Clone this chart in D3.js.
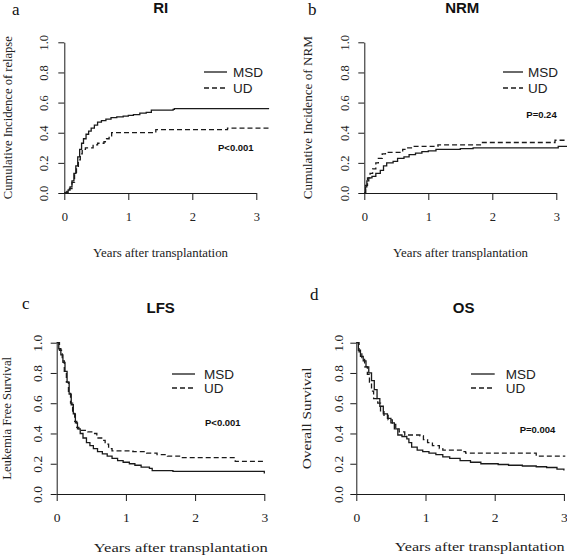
<!DOCTYPE html>
<html><head><meta charset="utf-8">
<script src="https://cdn.jsdelivr.net/npm/d3@7"></script>
<style>body{margin:0;background:#fff}svg{display:block}</style>
</head><body>
<svg id="c" width="567" height="560"></svg>
<script>
// ---- data (years, value) ----
const xTicks = [0, 1, 2, 3];
const yTicks = [0, 0.2, 0.4, 0.6, 0.8, 1.0];
const panelLetters = ["a", "b", "c", "d"];
const panelTitles = ["RI", "NRM", "LFS", "OS"];
const yTitles = ["Cumulative Incidence of relapse", "Cumulative Incidence of NRM", "Leukemia Free Survival", "Overall Survival"];
const xTitle = "Years after transplantation";
const seriesNames = ["MSD", "UD"];
const pValues = ["P<0.001", "P=0.24", "P<0.001", "P=0.004"];

const riMSD = [[0,0],[0.03,0.005],[0.06,0.02],[0.09,0.04],[0.12,0.08],[0.15,0.13],[0.18,0.18],[0.21,0.24],[0.24,0.29],[0.27,0.33],[0.30,0.36],[0.34,0.39],[0.38,0.41],[0.42,0.43],[0.47,0.45],[0.52,0.47],[0.58,0.48],[0.65,0.49],[0.73,0.50],[0.82,0.505],[0.92,0.51],[1.0,0.515],[1.08,0.52],[1.18,0.53],[1.28,0.535],[1.36,0.55],[1.7,0.555],[1.72,0.56],[3.2,0.56]];
const riUD = [[0,0],[0.04,0.01],[0.08,0.03],[0.12,0.07],[0.16,0.12],[0.19,0.17],[0.22,0.22],[0.25,0.26],[0.28,0.29],[0.33,0.30],[0.45,0.32],[0.52,0.33],[0.62,0.34],[0.66,0.36],[0.70,0.38],[0.74,0.40],[1.36,0.40],[1.43,0.42],[2.5,0.42],[2.55,0.43],[3.2,0.43]];
const nrmMSD = [[0,0],[0.02,0.04],[0.04,0.08],[0.07,0.10],[0.12,0.11],[0.18,0.13],[0.25,0.15],[0.30,0.18],[0.35,0.20],[0.45,0.21],[0.52,0.23],[0.62,0.24],[0.70,0.255],[0.80,0.265],[0.90,0.275],[1.0,0.28],[1.12,0.29],[1.5,0.295],[1.7,0.30],[3.0,0.30],[3.03,0.31],[3.2,0.31]];
const nrmUD = [[0,0],[0.02,0.05],[0.05,0.10],[0.09,0.13],[0.13,0.16],[0.18,0.20],[0.22,0.23],[0.28,0.26],[0.33,0.27],[0.56,0.27],[0.60,0.29],[0.66,0.30],[0.75,0.31],[1.1,0.31],[1.15,0.32],[1.8,0.32],[1.83,0.335],[2.95,0.335],[2.98,0.35],[3.2,0.35]];
const lfsMSD = [[0,1],[0.03,0.96],[0.06,0.92],[0.09,0.87],[0.12,0.81],[0.15,0.74],[0.18,0.66],[0.21,0.59],[0.24,0.53],[0.27,0.47],[0.30,0.43],[0.34,0.40],[0.38,0.37],[0.43,0.34],[0.48,0.32],[0.53,0.30],[0.59,0.28],[0.66,0.265],[0.73,0.25],[0.80,0.235],[0.88,0.22],[0.96,0.21],[1.05,0.20],[1.13,0.19],[1.22,0.178],[1.34,0.17],[1.38,0.155],[1.68,0.15],[2.98,0.15],[3.0,0.135]];
const lfsUD = [[0,1],[0.04,0.95],[0.08,0.88],[0.11,0.80],[0.14,0.74],[0.17,0.67],[0.20,0.60],[0.23,0.54],[0.26,0.48],[0.29,0.44],[0.32,0.42],[0.38,0.42],[0.45,0.41],[0.52,0.40],[0.58,0.37],[0.65,0.355],[0.70,0.33],[0.75,0.30],[0.80,0.285],[1.1,0.28],[1.3,0.27],[1.45,0.26],[1.6,0.25],[1.8,0.24],[2.55,0.24],[2.58,0.215],[3.0,0.215]];
const osMSD = [[0,1],[0.03,0.95],[0.06,0.91],[0.1,0.88],[0.14,0.84],[0.18,0.80],[0.22,0.75],[0.26,0.69],[0.30,0.63],[0.34,0.58],[0.39,0.53],[0.45,0.50],[0.50,0.47],[0.55,0.43],[0.60,0.39],[0.66,0.38],[0.73,0.365],[0.76,0.34],[0.80,0.31],[0.88,0.29],[0.96,0.28],[1.05,0.27],[1.15,0.26],[1.25,0.245],[1.35,0.235],[1.5,0.22],[1.65,0.21],[1.8,0.20],[2.05,0.195],[2.2,0.19],[2.4,0.185],[2.6,0.18],[2.75,0.175],[2.9,0.165],[3.0,0.155]];
const osUD = [[0,1],[0.04,0.94],[0.08,0.89],[0.12,0.84],[0.16,0.79],[0.19,0.74],[0.22,0.68],[0.25,0.63],[0.31,0.60],[0.35,0.55],[0.40,0.52],[0.46,0.49],[0.52,0.46],[0.57,0.43],[0.62,0.41],[0.70,0.39],[0.92,0.385],[0.97,0.36],[1.03,0.34],[1.1,0.32],[1.2,0.30],[1.25,0.29],[1.54,0.28],[1.58,0.27],[2.58,0.27],[2.6,0.25],[3.02,0.25]];
const panelData = [[riMSD, riUD], [nrmMSD, nrmUD], [lfsMSD, lfsUD], [osMSD, osUD]];

// ---- layout ----
const layout = [
  {x0:64.3, px:64, yT:42.3, yB:193, fs:12.5, lbl:[12,15], ttl:[160.7,12.5], xt:[160.5,256.5,135], yt:[7,163], leg:[204,227,233,72,88], p:[218,150.7], ytl:21, xtl:220.5},
  {x0:364.3, px:64, yT:42.3, yB:193, fs:12.5, lbl:[308,15], ttl:[462.3,12.5], xt:[460.5,256.5,135], yt:[307,163], leg:[503,523,528,72,88], p:[526.3,118.3], ytl:20, xtl:220.5},
  {x0:56.7, px:69.2, yT:342.7, yB:494, fs:13.5, lbl:[22,309], ttl:[160.7,312.7], xt:[180.8,551.5,174], yt:[6,123], leg:[172,195,204,374,388], p:[205,426], ytl:19, xtl:522},
  {x0:356.3, px:69.2, yT:342.7, yB:494, fs:13.5, lbl:[310,300], ttl:[463.7,312.7], xt:[479.7,550.7,170], yt:[306,102], leg:[471,494.7,505.7,374,388], p:[519.7,432.7], ytl:18, xtl:522}
];

const svg = d3.select("#c");
const serif = "'Liberation Serif','Times New Roman',serif";
const sans = "'Liberation Sans',Arial,sans-serif";
const ink = "#1a1a1a";

layout.forEach((L, i) => {
  const g = svg.append("g");
  const x = d3.scaleLinear().domain([0, 3]).range([L.x0, L.x0 + 3 * L.px]);
  const y = d3.scaleLinear().domain([0, 1]).range([L.yB, L.yT]);

  // axes
  const xa = g.append("g").attr("transform", `translate(0,${L.yB})`)
    .call(d3.axisBottom(x).tickValues(xTicks).tickFormat(d3.format("d")).tickSize(7).tickSizeOuter(0));
  xa.select(".domain").attr("stroke", ink);
  xa.selectAll(".tick line").attr("stroke", ink);
  xa.selectAll(".tick text").attr("font-family", serif).attr("font-size", L.fs).attr("fill", "#222")
    .attr("y", L.xtl - L.yB).attr("dy", 0);
  const ya = g.append("g").attr("transform", `translate(${L.x0},0)`)
    .call(d3.axisLeft(y).tickValues(yTicks).tickFormat(d3.format(".1f")).tickSize(6).tickSizeOuter(0));
  ya.select(".domain").attr("stroke", ink);
  ya.selectAll(".tick line").attr("stroke", ink);
  ya.selectAll(".tick text").attr("font-family", serif).attr("font-size", L.fs).attr("fill", "#222")
    .attr("x", 0).attr("dy", 0).attr("text-anchor", "middle")
    .attr("transform", `rotate(-90) translate(0,${-L.ytl + L.fs * 0.35})`);

  // curves
  const line = d3.line().x(d => x(d[0])).y(d => y(d[1])).curve(d3.curveStepAfter);
  panelData[i].forEach((ser, k) => {
    g.append("path").datum(ser).attr("d", line).attr("fill", "none")
      .attr("stroke", ink).attr("stroke-width", 1.3)
      .attr("stroke-dasharray", k === 1 ? "5,3" : null);
  });

  // legend
  seriesNames.forEach((nm, k) => {
    const yy = k === 0 ? L.leg[3] : L.leg[4];
    g.append("line").attr("x1", L.leg[0]).attr("x2", L.leg[1]).attr("y1", yy).attr("y2", yy)
      .attr("stroke", ink).attr("stroke-width", 1.3).attr("stroke-dasharray", k === 1 ? "5,3" : null);
    g.append("text").attr("x", L.leg[2]).attr("y", yy + 5).text(nm)
      .attr("font-family", sans).attr("font-size", 13.5).attr("fill", "#222");
  });

  // p value
  g.append("text").attr("x", L.p[0]).attr("y", L.p[1]).text(pValues[i])
    .attr("font-family", sans).attr("font-size", 9.5).attr("font-weight", "bold").attr("fill", "#111");

  // titles
  g.append("text").attr("x", L.ttl[0]).attr("y", L.ttl[1]).attr("text-anchor", "middle").text(panelTitles[i])
    .attr("font-family", sans).attr("font-size", 15).attr("font-weight", "bold").attr("fill", "#111");
  g.append("text").attr("x", L.lbl[0]).attr("y", L.lbl[1]).text(panelLetters[i])
    .attr("font-family", serif).attr("font-size", 17).attr("fill", "#111");
  g.append("text").attr("x", L.xt[0]).attr("y", L.xt[1]).attr("text-anchor", "middle").text(xTitle)
    .attr("font-family", serif).attr("font-size", 13).attr("fill", "#222")
    .attr("textLength", L.xt[2]).attr("lengthAdjust", "spacingAndGlyphs");
  const yc = (L.yT + L.yB) / 2;
  g.append("text").attr("transform", `translate(${L.yt[0] + 4.5},${yc}) rotate(-90)`)
    .attr("text-anchor", "middle").text(yTitles[i])
    .attr("font-family", serif).attr("font-size", 13).attr("fill", "#222")
    .attr("textLength", L.yt[1]).attr("lengthAdjust", "spacingAndGlyphs");
});
</script>
</body></html>
